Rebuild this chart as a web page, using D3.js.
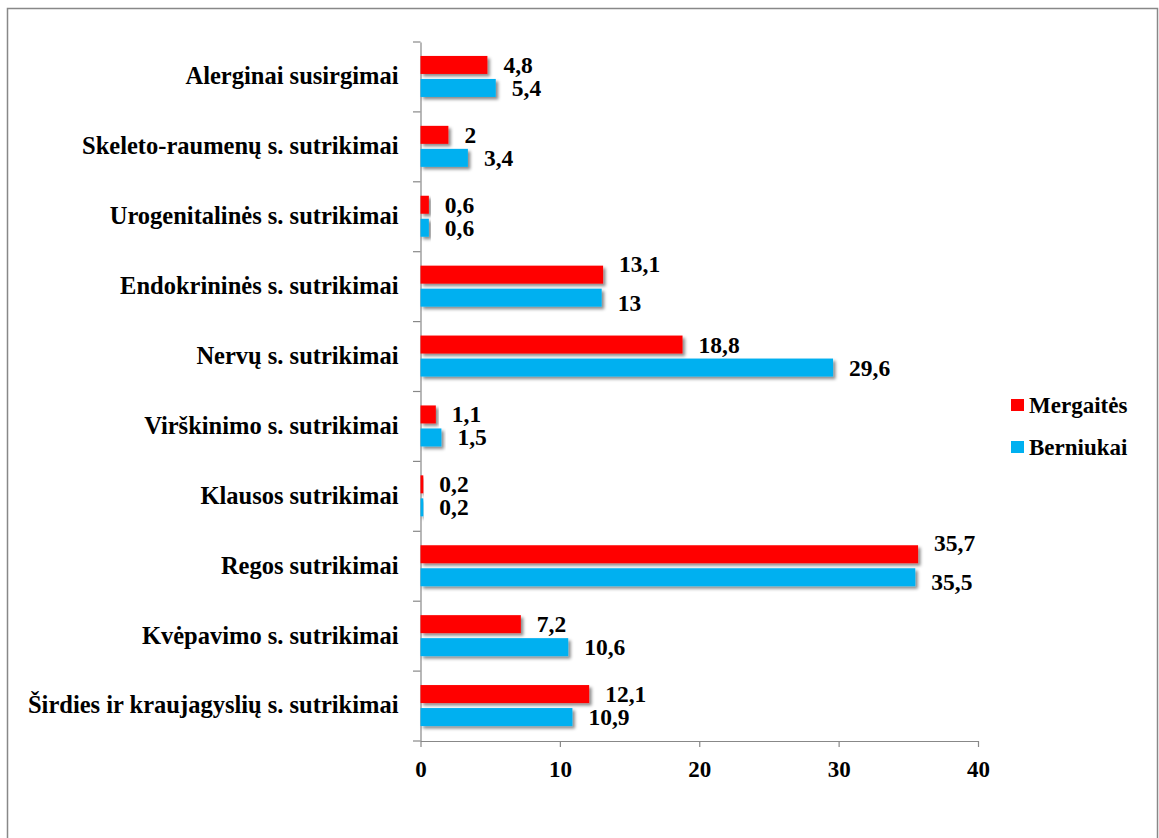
<!DOCTYPE html>
<html><head><meta charset="utf-8">
<script src="https://cdn.jsdelivr.net/npm/d3@7"></script>
<style>body{margin:0;background:#fff}svg{display:block}</style>
</head><body>
<script>
const categories = ["Alerginai susirgimai","Skeleto-raumenų s. sutrikimai","Urogenitalinės s. sutrikimai","Endokrininės s. sutrikimai","Nervų s. sutrikimai","Virškinimo s. sutrikimai","Klausos sutrikimai","Regos sutrikimai","Kvėpavimo s. sutrikimai","Širdies ir kraujagyslių s. sutrikimai"];
const mergaites = [4.8,2,0.6,13.1,18.8,1.1,0.2,35.7,7.2,12.1];
const berniukai = [5.4,3.4,0.6,13,29.6,1.5,0.2,35.5,10.6,10.9];
const seriesNames = ["Mergaitės","Berniukai"];
const seriesColors = ["#ff0000","#00b0f0"];
const xTicks = [0,10,20,30,40];
const fmt = v => String(v).replace(".", ",");
const FONT = "'Liberation Serif', 'Times New Roman', Times, serif";

const W=1159,H=838;
const svg=d3.select("body").append("svg").attr("width",W).attr("height",H);
const defs=svg.append("defs");
const f=defs.append("filter").attr("id","sh").attr("x","-10%").attr("y","-30%").attr("width","130%").attr("height","180%");
f.append("feDropShadow").attr("dx",2.5).attr("dy",2.5).attr("stdDeviation",1.8).attr("flood-color","#000").attr("flood-opacity",0.45);

svg.append("rect").attr("x",7.5).attr("y",8.5).attr("width",1150).attr("height",840).attr("fill","none").attr("stroke","#888").attr("stroke-width",1.5);

const x=d3.scaleLinear().domain([0,40]).range([420.5,978]);
const y=d3.scaleBand().domain(categories).range([42,741]);

function styleText(sel,size){
  sel.attr("font-family",FONT).attr("font-weight","bold").attr("font-size",size).attr("fill","#000")
     .style("font-family",FONT).style("font-weight","bold").style("font-size",size+"px");
}

// axes
const gx=svg.append("g").attr("transform","translate(0,741)");
gx.call(d3.axisBottom(x).tickValues(xTicks).tickSize(6).tickSizeOuter(0).tickPadding(14));
gx.attr("font-family",FONT);
gx.select(".domain").attr("stroke","#888").attr("stroke-width",1.2);
gx.selectAll(".tick line").attr("stroke","#888").attr("stroke-width",1.2);
styleText(gx.selectAll(".tick text"),23);

const gy=svg.append("g").attr("transform","translate(420.5,0)");
gy.call(d3.axisLeft(y).tickSize(0).tickPadding(22));
gy.attr("font-family",FONT);
gy.select(".domain").attr("stroke","#888").attr("stroke-width",1.2);
styleText(gy.selectAll(".tick text"),24.5);
gy.selectAll(".tick text").attr("dy","0.3em");
// category boundary ticks
const bounds=categories.map(c=>y(c)).concat([741]);
svg.append("g").selectAll("line").data(bounds).join("line")
  .attr("x1",413).attr("x2",420.5).attr("y1",d=>d).attr("y2",d=>d).attr("stroke","#888").attr("stroke-width",1.2);

const rows=categories.map((c,i)=>({c,vals:[mergaites[i],berniukai[i]]}));
const g=svg.append("g");
rows.forEach(r=>{
  const cy=y(r.c)+y.bandwidth()/2;
  // labels whose horizontal extents nearly coincide are pushed apart vertically
  const overlap=Math.abs(x(r.vals[0])-x(r.vals[1]))<6 && r.vals[0]>5;
  r.vals.forEach((v,s)=>{
    const top = s===0 ? cy-21 : cy+2;
    g.append("rect").attr("x",x(0)).attr("y",top).attr("width",x(v)-x(0)).attr("height",18)
      .attr("fill",seriesColors[s]).attr("filter","url(#sh)");
    let ly=top+9;
    if(overlap) ly += s===0 ? -11 : 5;
    const t=g.append("text").attr("x",x(v)+16).attr("y",ly).attr("dy","0.34em").text(fmt(v));
    styleText(t,23.5);
  });
});

// legend
const lg=svg.append("g");
seriesNames.forEach((n,i)=>{
  const ly=405+i*42;
  lg.append("rect").attr("x",1011).attr("y",ly-6).attr("width",13).attr("height",12).attr("fill",seriesColors[i]);
  const t=lg.append("text").attr("x",1029).attr("y",ly).attr("dy","0.35em").text(n);
  styleText(t,23);
});
</script>
</body></html>
